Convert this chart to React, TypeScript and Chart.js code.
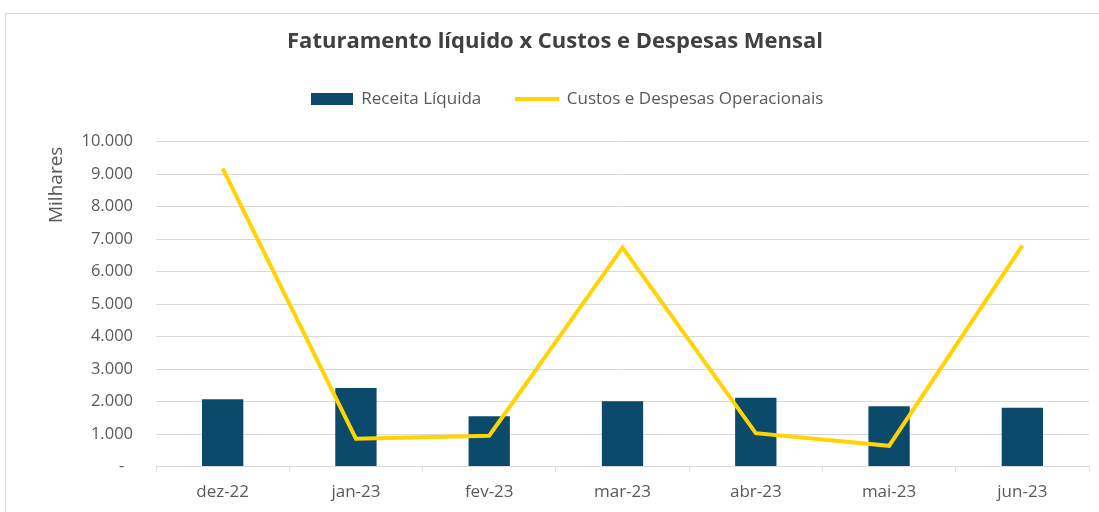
import React, { useEffect, useRef } from "react";
import { Chart, registerables, layouts } from "chart.js";

Chart.register(...registerables);

const categories = ["dez-22", "jan-23", "fev-23", "mar-23", "abr-23", "mai-23", "jun-23"];
const receitaLiquida = [2070, 2420, 1550, 2010, 2120, 1860, 1810];
const custosDespesas = [9180, 860, 950, 6740, 1030, 640, 6800];
const yTickLabels = ["-  ", "1.000", "2.000", "3.000", "4.000", "5.000", "6.000", "7.000", "8.000", "9.000", "10.000"];

const BAR_COLOR = "#0B4A6B";
const LINE_COLOR = "#FFD400";
const TEXT_COLOR = "#595959";
const GRID_COLOR = "#D9D9D9";
const FONT = "'Open Sans', Lato, sans-serif";

export default function App() {
  const canvasRef = useRef<HTMLCanvasElement | null>(null);

  useEffect(() => {
    if (!canvasRef.current) return;

    const barIcon = document.createElement("canvas");
    barIcon.width = 42;
    barIcon.height = 12;
    const bctx = barIcon.getContext("2d")!;
    bctx.fillStyle = BAR_COLOR;
    bctx.fillRect(0, 0, 42, 12);

    const lineIcon = document.createElement("canvas");
    lineIcon.width = 44;
    lineIcon.height = 4;
    const lctx = lineIcon.getContext("2d")!;
    lctx.fillStyle = LINE_COLOR;
    lctx.fillRect(0, 0, 44, 4);

    const spacer = {
      id: "spacer",
      beforeInit(chart: any) {
        const box: any = {
          position: "top",
          weight: 500,
          fullSize: true,
          options: { stackWeight: 1 },
          width: 0,
          height: 0,
          left: 0,
          top: 0,
          right: 0,
          bottom: 0,
          isHorizontal() {
            return true;
          },
          update(maxWidth: number) {
            this.width = maxWidth;
            this.height = 24.5;
          },
          draw() {},
        };
        layouts.addBox(chart, box);
      },
    };

    const legendShift = {
      id: "legendShift",
      afterLayout(chart: any) {
        if (chart.legend) {
          chart.legend.left += 12;
          chart.legend.right += 12;
        }
      },
    };

    const chart = new Chart(canvasRef.current, {
      type: "bar",
      data: {
        labels: categories,
        datasets: [
          {
            type: "bar",
            label: "Receita Líquida",
            data: receitaLiquida,
            backgroundColor: BAR_COLOR,
            barPercentage: 0.31,
            categoryPercentage: 1,
            order: 1,
          },
          {
            type: "line",
            label: "Custos e Despesas Operacionais",
            data: custosDespesas,
            borderColor: LINE_COLOR,
            backgroundColor: LINE_COLOR,
            borderWidth: 4,
            pointRadius: 0,
            tension: 0,
            order: 0,
          } as any,
        ],
      },
      plugins: [spacer, legendShift],
      options: {
        animation: false,
        responsive: false,
        maintainAspectRatio: false,
        layout: { padding: { left: 21, right: 10, top: 14, bottom: 0 } },
        plugins: {
          tooltip: { enabled: false },
          title: {
            display: true,
            text: "Faturamento líquido x Custos e Despesas Mensal",
            color: "#404040",
            font: { family: FONT, size: 22, weight: "bold" },
            padding: { top: 14.8, bottom: 0 },
          },
          legend: {
            display: true,
            labels: {
              usePointStyle: true,
              pointStyleWidth: 42,
              boxHeight: 12,
              padding: 35,
              color: TEXT_COLOR,
              font: { family: FONT, size: 17 },
              generateLabels: () => [
                {
                  text: "Receita Líquida",
                  pointStyle: barIcon as any,
                  fillStyle: BAR_COLOR,
                  strokeStyle: BAR_COLOR,
                  lineWidth: 0,
                  hidden: false,
                  datasetIndex: 0,
                  fontColor: TEXT_COLOR,
                },
                {
                  text: "Custos e Despesas Operacionais",
                  pointStyle: lineIcon as any,
                  fillStyle: LINE_COLOR,
                  strokeStyle: LINE_COLOR,
                  lineWidth: 0,
                  hidden: false,
                  datasetIndex: 1,
                  fontColor: TEXT_COLOR,
                },
              ],
            },
          },
        },
        scales: {
          x: {
            grid: {
              display: true,
              drawOnChartArea: false,
              drawTicks: true,
              tickLength: 5,
              color: GRID_COLOR,
              offset: true,
            },
            border: { display: true, color: GRID_COLOR, width: 1 },
            ticks: {
              color: TEXT_COLOR,
              font: { family: FONT, size: 17 },
              padding: 10,
              maxRotation: 0,
            },
          },
          y: {
            min: 0,
            max: 10000,
            afterFit(scale: any) {
              scale.width = 135;
            },
            grid: { color: GRID_COLOR, drawTicks: false, lineWidth: 1 },
            border: { display: false },
            ticks: {
              stepSize: 1000,
              padding: 23,
              color: TEXT_COLOR,
              font: { family: FONT, size: 16.5 },
              callback: (_v: any, i: number) => yTickLabels[i],
            },
            title: {
              display: true,
              text: "Milhares ",
              align: "end",
              color: TEXT_COLOR,
              font: { family: FONT, size: 19 },
              padding: { top: 24.6, bottom: 0 },
            },
          },
        },
      },
    });

    return () => chart.destroy();
  }, []);

  return (
    <div
      style={{
        position: "fixed",
        left: 0,
        top: 0,
        width: 1099,
        height: 512,
        overflow: "hidden",
        background: "#ffffff",
      }}
    >
      <div
        style={{
          position: "absolute",
          left: 5,
          top: 13,
          width: 1200,
          height: 600,
          border: "1px solid #D9D9D9",
          boxSizing: "border-box",
        }}
      />
      <canvas
        ref={canvasRef}
        width={1099}
        height={512}
        style={{ position: "absolute", left: 0, top: 0, width: 1099, height: 512 }}
      />
    </div>
  );
}
